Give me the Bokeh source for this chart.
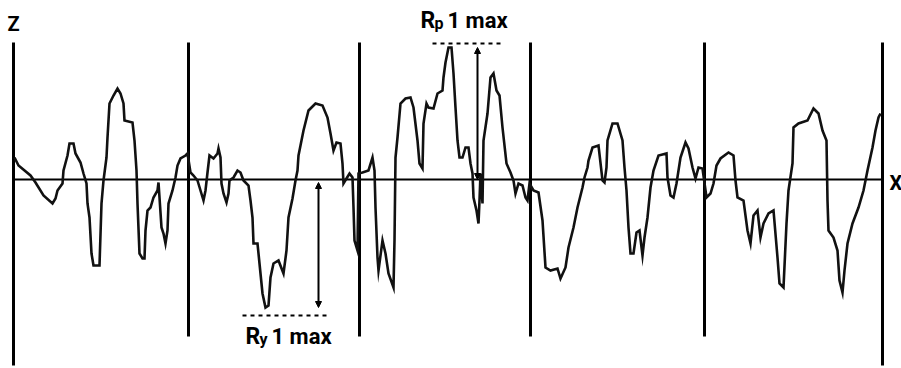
from bokeh.plotting import figure
from bokeh.models import Range1d, Arrow, NormalHead
from bokeh.core.properties import value
from bokeh.embed import file_html
from bokeh.resources import INLINE

# Roughness profile: distance along the surface and height about the mean line
profile_x = [1, 5, 17, 22, 30, 39, 42, 44, 49, 50, 54, 56, 60, 62, 67, 70, 73, 74, 76, 78,
             80, 86, 88, 90, 93, 94, 96, 100, 104, 107, 110, 111, 119, 121, 123, 124, 126, 129, 131, 132,
             134, 137, 140, 144, 145, 146, 148, 150, 152, 154, 155, 159, 162, 164, 167, 172, 174, 177, 180, 184,
             187, 190, 192, 194, 196, 200, 204, 205, 207, 208, 210, 213, 215, 216, 220, 224, 227, 230, 235, 237,
             239, 240, 244, 247, 249, 252, 255, 257, 260, 265, 270, 273, 275, 279, 282, 284, 285, 287, 290, 295,
             302, 309, 314, 317, 320, 323, 327, 329, 330, 333, 336, 339, 340, 341, 344, 345, 349, 355, 359, 361,
             362, 364, 365, 369, 372, 375, 380, 381, 382, 384, 387, 392, 397, 400, 404, 406, 409, 410, 413, 415,
             420, 424, 429, 430, 432, 435, 438, 440, 442, 444, 446, 449, 452, 455, 457, 459, 460, 463, 465, 466,
             467, 469, 470, 474, 477, 480, 483, 486, 489, 493, 497, 500, 502, 505, 509, 512, 514, 516, 520, 525,
             529, 532, 537, 544, 547, 552, 555, 560, 564, 569, 571, 574, 575, 579, 585, 589, 591, 593, 594, 599,
             604, 609, 611, 613, 615, 617, 620, 623, 626, 629, 631, 634, 637, 640, 645, 653, 654, 657, 660, 663,
             667, 672, 675, 679, 682, 685, 689, 693, 697, 700, 703, 707, 715, 720, 722, 724, 730, 734, 737, 740,
             744, 747, 750, 755, 760, 764, 766, 770, 773, 775, 779, 780, 785, 794, 800, 805, 809, 813, 814, 815,
             820, 824, 826, 829, 831, 834, 839, 845, 850, 854, 859, 862, 865, 867]
profile_z = [22, 14, 4, -3, -16, -24, -19, -11, -4, 9, 24, 36, 36, 26, 17, 6, -4, -24, -38, -74,
             -86, -86, -24, -1, 22, 42, 76, 84, 91, 86, 76, 59, 57, 39, 9, -24, -74, -79, -79, -51,
             -31, -28, -18, -11, -3, -18, -48, -54, -64, -51, -24, -11, 2, 14, 21, 24, 26, 7, 4, -1,
             -11, -21, -11, 7, 24, 21, 26, 31, 22, -4, -14, -23, -14, -1, 2, 9, 7, -1, -6, -21,
             -38, -64, -64, -94, -114, -128, -126, -98, -84, -81, -94, -71, -38, -19, -1, 9, 24, 34, 49, 69,
             76, 74, 62, 46, 29, 37, 36, 16, -4, 1, 6, 2, -28, -61, -71, 6, 7, 9, 22, 9,
             -28, -78, -91, -61, -74, -94, -108, -61, 22, 42, 76, 81, 82, 72, 39, 16, 11, 56, 76, 72,
             71, 86, 89, 102, 117, 132, 132, 106, 72, 39, 22, 22, 32, 32, 16, 6, -18, -31, -44, -21,
             6, -24, 39, 66, 102, 106, 89, 84, 52, 16, 7, -1, -14, -4, -6, -18, -21, -4, -11, -13,
             -41, -88, -91, -89, -99, -88, -68, -48, -28, -8, 2, 12, 19, 32, 34, -1, -3, 12, 39, 56,
             56, 39, 12, -11, -48, -74, -74, -53, -51, -76, -58, -38, -8, 9, 24, 26, 2, -16, -18, -4,
             22, 37, 31, 12, 1, 12, 11, -18, -14, -4, 14, 21, 27, 24, -1, -18, -21, -51, -64, -36,
             -31, -58, -44, -34, -31, -78, -104, -108, -44, -11, 16, 52, 56, 59, 71, 66, 49, 39, -21, -51,
             -58, -71, -101, -113, -91, -64, -44, -28, -11, 9, 32, 49, 62, 66]

# Sampling-length boundaries and the extent of each divider line
section_x = [0, 175, 346, 517, 691, 869]
section_top = [137, 137, 137, 137, 137, 137]
section_bottom = [-186, -157, -157, -157, -157, -186]

# Highest peak and deepest valley levels with their marker positions
rp_level = 136
rv_level = -136
rp_x = 464
rv_x = 305
rp_dash = [419, 487]
rv_dash = [229, 317]

p = figure(width=901, height=368, output_backend="svg", toolbar_location=None,
           x_range=Range1d(-13, 888), y_range=Range1d(-189, 179),
           min_border=0, x_axis_type=None, y_axis_type=None)
p.grid.visible = False
p.outline_line_color = None
p.background_fill_color = "white"
p.border_fill_color = "white"

# mean line
p.line([section_x[0], section_x[-1]], [0, 0], line_color="black", line_width=2.2)

# section dividers
p.segment(x0=section_x, y0=section_bottom, x1=section_x, y1=section_top,
          line_color="black", line_width=3)

# profile
p.line(profile_x, profile_z, line_color="#111111", line_width=2.6, line_join="miter")

# dashed reference levels
p.line(rp_dash, [rp_level, rp_level], line_color="black", line_width=2, line_dash="4 4")
p.line(rv_dash, [rv_level, rv_level], line_color="black", line_width=2, line_dash="4 4")

# double-headed arrows from the mean line
for xa, z_end in [(rp_x, 132), (rv_x, -128)]:
    p.add_layout(Arrow(x_start=xa, y_start=0 if z_end > 0 else -3, x_end=xa, y_end=z_end,
                       line_color="black", line_width=2,
                       start=NormalHead(size=6, fill_color="black", line_color="black"),
                       end=NormalHead(size=6, fill_color="black", line_color="black")))

font = value("Roboto")

def label(x, z, main, sub, tail, sub_dx, tail_dx):
    p.text(x=[x], y=[z], text=[main], text_font=font, text_font_style="bold",
           text_font_size="23px", text_baseline="alphabetic", text_align="left", text_color="black")
    p.text(x=[x], y=[z], text=[sub], text_font=font, text_font_style="bold", x_offset=sub_dx, y_offset=3,
           text_font_size="16px", text_baseline="alphabetic", text_align="left", text_color="black")
    p.text(x=[x], y=[z], text=[tail], text_font=font, text_font_style="bold", x_offset=tail_dx,
           text_font_size="22px", text_baseline="alphabetic", text_align="left", text_color="black")

label(407, 159, "R", "p", "1 max", 14, 27)
label(232, -157, "R", "y", "1 max", 14, 26)

# axis letters
p.text(x=[-6], y=[156], text=["Z"], text_font=font, text_font_style="bold",
       text_font_size="20px", text_baseline="alphabetic", text_align="left", text_color="black")
p.text(x=[876], y=[-3], text=["X"], text_font=font, text_font_style="bold",
       text_font_size="20px", text_baseline="alphabetic", text_align="left", text_color="black")

open("out.html", "w").write(file_html(p, INLINE))
